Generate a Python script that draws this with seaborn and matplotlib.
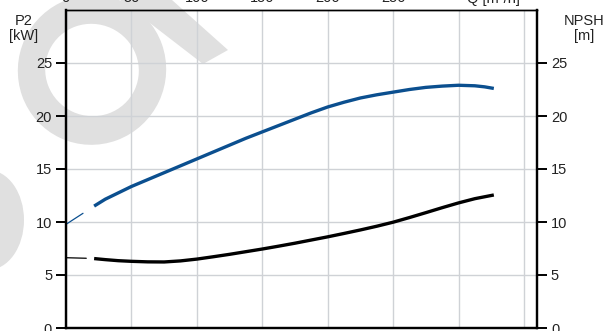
import matplotlib
matplotlib.use("Agg")
import matplotlib.pyplot as plt
from matplotlib.patches import Ellipse, Polygon
from matplotlib.transforms import Affine2D, blended_transform_factory
import pandas as pd
import seaborn as sns

# Pump curves: shaft power P2 and NPSH against flow Q
q_p2 = [21.5, 30, 40, 50, 62.5, 75, 87.5, 100, 112.5, 125, 137.5, 150, 162.5, 175,
        187.5, 200, 212.5, 225, 237.5, 250, 262.5, 275, 287.5, 300, 312.5, 320, 327]
p2_kw = [11.5, 12.15, 12.75, 13.35, 14.0, 14.65, 15.3, 15.95, 16.6, 17.25, 17.9, 18.5,
         19.1, 19.7, 20.3, 20.85, 21.3, 21.7, 22.0, 22.25, 22.5, 22.7, 22.82, 22.9,
         22.85, 22.75, 22.6]

q_npsh = [21.5, 30, 40, 50, 62.5, 75, 87.5, 100, 112.5, 125, 137.5, 150, 162.5, 175,
          187.5, 200, 212.5, 225, 237.5, 250, 262.5, 275, 287.5, 300, 312.5, 327]
npsh_m = [6.55, 6.45, 6.35, 6.29, 6.24, 6.23, 6.33, 6.5, 6.72, 6.95, 7.2, 7.45, 7.72,
          8.0, 8.3, 8.6, 8.92, 9.25, 9.6, 9.98, 10.42, 10.88, 11.35, 11.8, 12.2, 12.55]

# Thin lead-in segments below the operating range
q_p2_ext = [0, 13]
p2_ext = [9.78, 10.82]
q_npsh_ext = [0, 15.5]
npsh_ext = [6.63, 6.58]

q_ticks = [0, 50, 100, 150, 200, 250]
y_ticks = [0, 5, 10, 15, 20, 25]

sns.set_theme(style="white")
plt.rcParams["font.family"] = ["Liberation Sans", "DejaVu Sans"]

W, H = 606, 331
fig = plt.figure(figsize=(W / 100, H / 100), dpi=100)

ax = fig.add_axes([66 / W, 3 / H, (537 - 66) / W, (328 - 10) / H])
ax.set_xlim(0, 360)
ax.set_ylim(0, 30)

# Light watermark, positioned in pixels from the top-left corner of the figure
pix = Affine2D().scale(0.01, -0.01).translate(0, H / 100) + fig.dpi_scale_trans
wm_color = "#e0e0e0"
wm = [
    Ellipse((92, 70), 148, 150, angle=25, facecolor=wm_color),
    Ellipse((92, 70), 94, 92, angle=25, facecolor="white"),
    Polygon([(120, 0), (172, 0), (228, 50), (203, 64)], closed=True, facecolor=wm_color),
    Ellipse((-12, 220), 72, 100, facecolor=wm_color),
]
for i, p in enumerate(wm):
    p.set_transform(pix)
    p.set_edgecolor("none")
    p.set_clip_on(False)
    p.set_zorder(0.1 + 0.01 * i)
    ax.add_artist(p)

df_p2 = pd.DataFrame({"Q": q_p2, "P2": p2_kw})
df_p2e = pd.DataFrame({"Q": q_p2_ext, "P2": p2_ext})
sns.lineplot(data=df_p2, x="Q", y="P2", ax=ax, color="#0b4f8f", lw=2.4,
             solid_capstyle="butt", solid_joinstyle="round", zorder=5)
sns.lineplot(data=df_p2e, x="Q", y="P2", ax=ax, color="#0b4f8f", lw=0.9, zorder=5)

ax.set_xticks([0, 50, 100, 150, 200, 250, 300, 350])
ax.set_yticks(y_ticks)
ax.grid(True, color="#cfd2d6", lw=1.0)
ax.set_axisbelow(True)
ax.tick_params(axis="x", bottom=False, labelbottom=False)
ax.tick_params(axis="y", direction="out", length=7, width=1.4, color="black",
               labelsize=10.5, labelcolor="#222222", pad=3, left=True)
ax.set_xlabel("")
ax.set_ylabel("")

ax2 = ax.twinx()
ax2.set_ylim(0, 30)
ax2.set_yticks(y_ticks)
df_n = pd.DataFrame({"Q": q_npsh, "NPSH": npsh_m})
df_ne = pd.DataFrame({"Q": q_npsh_ext, "NPSH": npsh_ext})
sns.lineplot(data=df_n, x="Q", y="NPSH", ax=ax2, color="black", lw=2.4,
             solid_capstyle="butt", solid_joinstyle="round", zorder=5)
sns.lineplot(data=df_ne, x="Q", y="NPSH", ax=ax2, color="black", lw=0.9, zorder=5)
ax2.set_ylabel("")
ax2.tick_params(axis="y", direction="out", length=7, width=1.4, color="black",
                labelsize=10.5, labelcolor="#222222", pad=3, right=True)
ax2.patch.set_visible(False)

for a in (ax, ax2):
    for side in ("left", "right", "bottom"):
        a.spines[side].set_color("black")
        a.spines[side].set_linewidth(1.6)
    a.spines["top"].set_color("black")
    a.spines["top"].set_linewidth(1.0)

# Flow scale printed along the top edge
tr = blended_transform_factory(ax.transData, fig.transFigure)
for q in q_ticks:
    ax.text(q, 1 - 2.5 / H, str(q), transform=tr, ha="center", va="baseline",
            fontsize=10.5, color="#222222", clip_on=False)
fig.text(493 / W, 1 - 2.5 / H, "Q [m³/h]", ha="center", va="baseline",
         fontsize=10.5, color="#222222", zorder=4)

# Axis captions
for x, y, s in [(24, 25, "P2"), (24, 40, "[kW]"), (584, 25, "NPSH"), (584, 40, "[m]")]:
    fig.text(x / W, 1 - y / H, s, ha="center", va="baseline", fontsize=10.5,
             color="#222222", zorder=4)

fig.savefig("out.png", dpi=100)
